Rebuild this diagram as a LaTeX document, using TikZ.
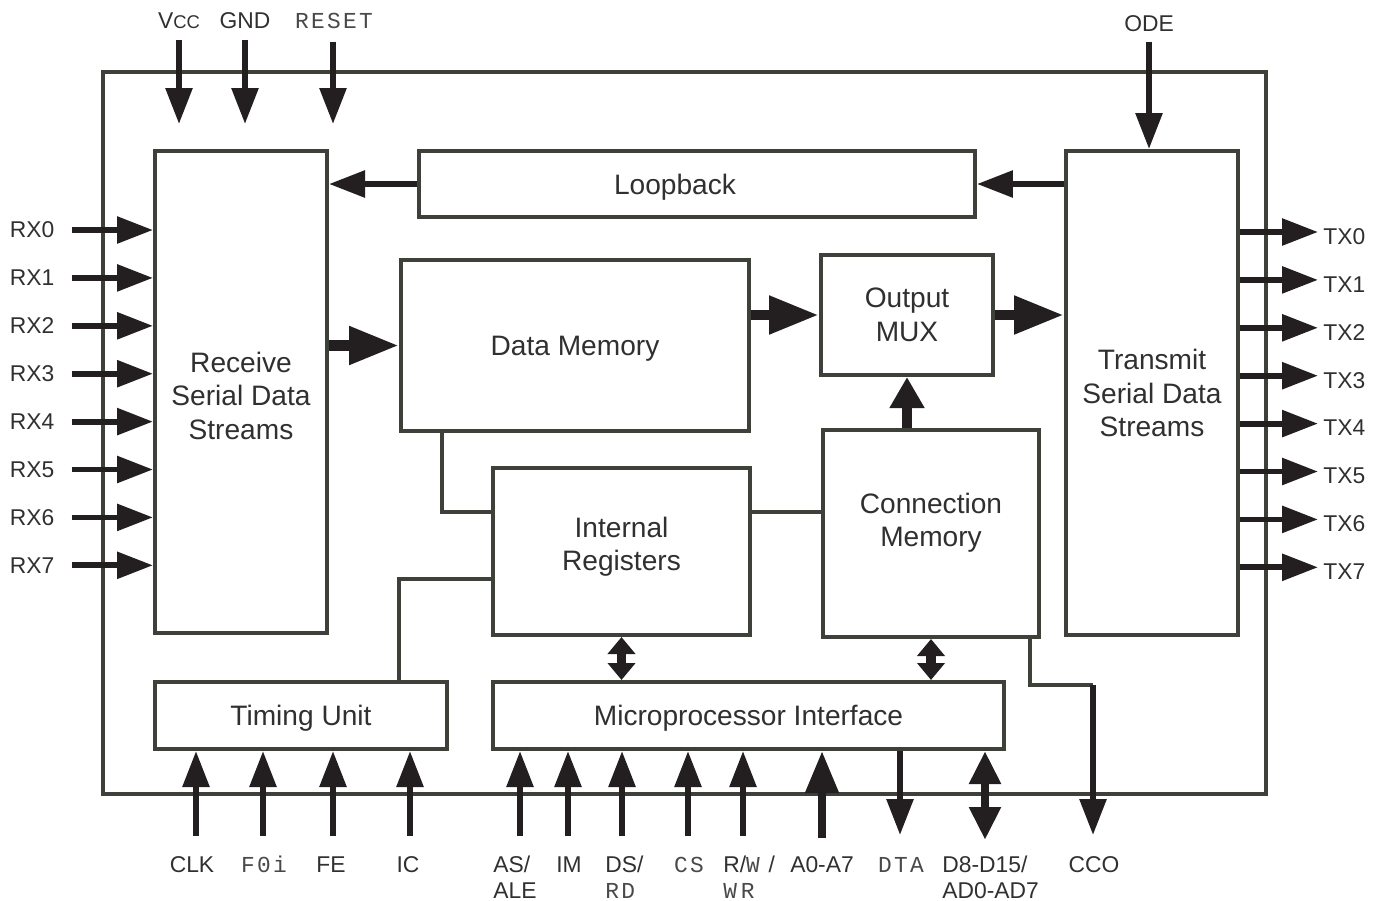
\documentclass[tikz,border=0pt]{standalone}
\usepackage{fontspec}
\setmainfont{Liberation Sans}
\setmonofont[LetterSpace=10]{Liberation Mono}
\usetikzlibrary{arrows.meta, positioning}

\definecolor{boxline}{RGB}{62,64,58}
\definecolor{pinblack}{RGB}{35,31,32}
\definecolor{labtext}{RGB}{48,48,48}

\begin{document}
\begin{tikzpicture}[
    x=0.02cm, y=-0.02cm,
    box/.style={rectangle, draw=boxline, line width=2.3pt, fill=white, inner sep=0pt, align=center, text=labtext, font=\fontsize{16}{19}\selectfont},
    lab/.style={text=labtext, inner sep=0pt, align=left, font=\fontsize{13}{14.7}\selectfont},
    mono/.style={lab, text=labtext!88, font=\ttfamily\fontsize{13}{14.7}\selectfont},
    wire/.style={draw=boxline, line width=2.3pt},
    pin/.style={draw=pinblack, line width=3.3pt, -{Triangle[length=0.72cm, width=0.52cm]}},
    addr/.style={draw=pinblack, line width=4.5pt, -{Triangle[length=0.84cm, width=0.64cm]}},
    bus/.style={draw=pinblack, line width=6.2pt, -{Triangle[length=1cm, width=0.72cm]}},
    feed/.style={draw=pinblack, line width=5.6pt, -{Triangle[length=0.62cm, width=0.66cm]}},
    dbl/.style={draw=pinblack, line width=5.5pt, {Triangle[length=0.34cm, width=0.54cm]}-{Triangle[length=0.34cm, width=0.54cm]}},
    dbus/.style={draw=pinblack, line width=5pt, {Triangle[length=0.66cm, width=0.6cm]}-{Triangle[length=0.66cm, width=0.6cm]}}
  ]
  \useasboundingbox (0,0) rectangle (1378,900);
  % chip outline
  \draw[wire] (103,72) rectangle (1266,794);

  % blocks
  \node[box, minimum width=3.44cm, minimum height=9.64cm, text height=1.9cm] (rec) at (241,392) {Receive\\Serial Data\\Streams};
  \node[box, minimum width=11.12cm, minimum height=1.32cm, text depth=0pt] (loop) at (697,184) {Loopback\hspace{0.88cm}};
  \node[box, minimum width=6.96cm, minimum height=3.42cm, text depth=0pt] (dmem) at (575,345.5) {Data Memory};
  \node[box, minimum width=3.44cm, minimum height=2.4cm] (omux) at (907,315) {Output\\MUX};
  \node[box, minimum width=3.44cm, minimum height=9.68cm] (trans) at (1152,393) {Transmit\\Serial Data\\Streams};
  \node[box, minimum width=5.14cm, minimum height=3.34cm, text depth=0.3cm] (ireg) at (621.5,551.5) {Internal\\Registers};
  \node[box, minimum width=4.32cm, minimum height=4.14cm, text depth=0.55cm] (cmem) at (931,533.5) {Connection\\Memory};
  \node[box, minimum width=5.84cm, minimum height=1.34cm, text depth=0pt] (tim) at (301,715.5) {Timing Unit};
  \node[box, minimum width=10.22cm, minimum height=1.34cm, text depth=0pt] (mpi) at (748.5,715.5) {Microprocessor Interface};

  % data paths
  \draw[pin] (loop.west) -- (loop.west -| rec.east);
  \draw[pin] (loop.east -| trans.west) -- (loop.east);
  \draw[bus] (dmem.west -| rec.east) -- (dmem.west);
  \draw[bus] (omux.west -| dmem.east) -- (omux.west);
  \draw[bus] (omux.east) -- (omux.east -| trans.west);
  \draw[feed] (omux.south |- cmem.north) -- (omux.south);

  % control wires
  \coordinate (irtop) at ([yshift=-0.92cm]ireg.north west);
  \coordinate (irmid) at ([yshift=-0.92cm]ireg.north east);
  \coordinate (irlow) at ([yshift=1.16cm]ireg.south west);
  \draw[wire] ([xshift=0.86cm]dmem.south west) |- (irtop);
  \draw[wire] (irmid) -- (irmid -| cmem.west);
  \draw[wire] ([xshift=-1cm]tim.north east) |- (irlow);
  \draw[dbl] (ireg.south) -- (ireg.south |- mpi.north);
  \draw[dbl] (cmem.south) -- (cmem.south |- mpi.north);

  % top pins
  \node[lab, anchor=base] (vcc) at (179,28) {V{\fontsize{10.5}{12}\selectfont CC}};
  \node[lab, anchor=base] (gnd) at (245,28) {GND};
  \node[mono, anchor=base] (reset) at (334,28) {RESET};
  \node[lab, anchor=base] (ode) at (1149,31) {ODE};
  \coordinate (vccin) at (179,124);
  \coordinate (gndin) at (245,124);
  \coordinate (resetin) at (333,124);
  \draw[pin] ([yshift=-0.22cm]vcc.south) -- (vccin);
  \draw[pin] ([yshift=-0.22cm]gnd.south) -- (gndin);
  \draw[pin] ([yshift=-0.26cm]reset.south -| resetin) -- (resetin);
  \draw[pin] ([yshift=-0.2cm]ode.south) -- (ode.south |- trans.north);

  % serial streams
  \foreach \i in {0,...,7} {
    \node[lab] (rx\i) at (32,230+47.9*\i) {RX\i};
    \draw[pin] ([xshift=0.34cm]rx\i.east) -- (rx\i.east -| rec.west);
    \coordinate (txend\i) at (1318,232+47.9*\i);
    \node[lab, right=0.1cm of txend\i, yshift=-0.09cm] (tx\i) {TX\i};
    \draw[pin] (txend\i -| trans.east) -- (txend\i);
  }

  % timing pins
  \node[lab, anchor=base] (clk) at (192,872) {CLK};
  \node[mono, anchor=base] (f0i) at (264,872) {F0i};
  \node[lab, anchor=base] (fe) at (331,872) {FE};
  \node[lab, anchor=base] (ic) at (408,872) {IC};
  \foreach \nm/\x in {clk/196, f0i/263, fe/333, ic/410} {
    \coordinate (in-\nm) at (\x,836);
    \draw[pin] (in-\nm) -- (in-\nm |- tim.south);
  }

  % microprocessor pins
  \node[lab, anchor=base west] (ale) at (493,898) {AS/\\ALE};
  \node[lab, anchor=base] (im) at (569,872) {IM};
  \node[lab, anchor=base west] (rd) at (605,898) {DS/\\{\color{labtext!88}\texttt{RD}}};
  \node[mono, anchor=base] (cs) at (689,872) {CS};
  \node[lab, anchor=base west] (wr) at (723,898) {R/{\color{labtext!88}\texttt{W}} /\\{\color{labtext!88}\texttt{W\,R}}};
  \node[lab, anchor=base] (addr) at (822,872) {A0-A7};
  \node[mono, anchor=base] (dta) at (901,872) {DTA};
  \node[lab, anchor=base west] (data) at (942,898) {D8-D15/\\AD0-AD7};
  \node[lab, anchor=base] (cco) at (1094,872) {CCO};
  \foreach \nm/\x in {ale/520, im/568, rd/622, cs/688, wr/743} {
    \coordinate (in-\nm) at (\x,836);
    \draw[pin] (in-\nm) -- (in-\nm |- mpi.south);
  }
  \coordinate (in-addr) at (822,838);
  \draw[addr] (in-addr) -- (in-addr |- mpi.south);
  \coordinate (out-dta) at (900,835);
  \draw[pin] (out-dta |- mpi.south) -- (out-dta);
  \coordinate (io-data) at (985,840);
  \draw[dbus] (io-data |- mpi.south) -- (io-data);
  \coordinate (ccobend) at (1093,685);
  \coordinate (out-cco) at (1093,835);
  \draw[wire] ([xshift=-0.22cm]cmem.south east) |- (ccobend);
  \draw[pin] (ccobend) -- (out-cco);
\end{tikzpicture}
\end{document}
